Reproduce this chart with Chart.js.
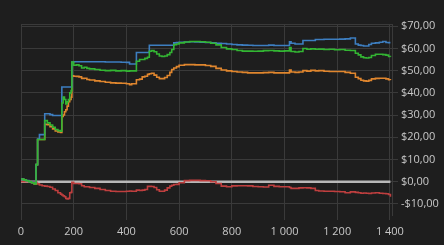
<!DOCTYPE html>
<html>
<head>
<meta charset="utf-8">
<script src="https://cdn.jsdelivr.net/npm/chart.js@4/dist/chart.umd.min.js"></script>
<style>
html,body{margin:0;padding:0;background:#1e1e1e;}
#wrap{width:444px;height:245px;position:relative;}
</style>
</head>
<body>
<div id="wrap"><canvas id="c" width="444" height="245"></canvas></div>
<script>
const xs = [0,10,20,30,40,50,57,60,63,70,80,90,100,110,120,130,140,150,155,160,165,170,175,180,185,190,193,200,210,220,230,240,250,260,280,300,320,340,360,380,400,412,420,438,450,460,470,480,487,495,505,515,525,535,545,555,565,572,580,590,600,620,640,660,680,700,720,740,760,780,800,820,840,860,880,900,920,940,960,980,1000,1019,1025,1040,1055,1070,1085,1100,1117,1130,1150,1170,1190,1210,1230,1250,1269,1280,1290,1300,1310,1320,1330,1345,1360,1373,1385,1395,1402];

const blue = [1.2,0.8,0.5,0,-0.3,-0.5,7.7,7.7,19.2,21.2,21.2,30.6,30.6,30.2,29.8,29.8,29.8,29.8,42.6,42.6,42.6,42.6,42.6,42.6,42.6,42.6,53.9,54.0,54.0,54.0,54.0,54.0,54.0,54.0,54.0,54.0,53.9,53.9,53.9,53.8,53.7,53.0,53.0,58.2,58.2,58.2,58.2,58.2,61.4,61.4,61.4,61.4,61.4,61.4,61.4,61.4,61.4,61.4,62.5,62.6,62.8,62.9,63.0,62.9,62.8,62.7,62.5,62.3,62.2,62.0,61.8,61.6,61.5,61.4,61.3,61.3,61.3,61.5,61.3,61.3,61.3,63.0,62.3,62.0,62.0,63.6,63.6,63.6,64.0,64.0,64.1,64.1,64.1,64.2,64.3,64.7,62.0,61.5,61.3,61.1,61.1,61.8,62.3,62.5,62.8,63.1,62.7,62.6,62.6];

const green = [1.2,0.8,0.4,0,-0.5,-1.0,7.7,7.7,19.0,19.0,19.0,27.5,26.5,25.5,24.5,23.5,23.0,22.7,35.4,38.1,37.0,35.0,36.0,37.0,40.0,41.0,53.9,52.4,52.6,52.2,51.2,51.5,51.0,50.8,50.5,50.2,50.0,50.1,49.9,50.0,49.8,49.9,49.9,54.2,55.0,55.0,55.5,56.0,58.7,59.0,58.5,57.5,56.6,56.4,56.6,57.2,58.2,59.5,61.7,62.0,62.5,62.9,63.1,63.1,63.0,62.8,62.3,61.6,60.4,59.8,59.5,59.1,58.8,58.8,58.7,58.8,59.0,59.1,58.9,58.8,58.9,60.4,58.6,58.4,58.6,60.0,59.6,59.8,59.6,59.7,59.5,59.6,59.4,59.5,59.2,59.1,57.8,57.1,56.2,55.8,55.7,55.9,56.8,57.4,57.4,57.2,57.0,56.4,56.2];

const orange = [1.2,0.8,0.4,0,-0.5,-1.0,7.7,7.7,19.0,19.0,19.0,25.8,25.7,24.8,23.8,22.8,22.4,22.2,29.4,30.0,31.5,32.4,34.0,36.0,37.0,38.0,47.7,47.5,47.4,47.2,46.5,46.6,46.0,45.8,45.4,45.1,44.8,44.5,44.4,44.3,44.1,43.7,44.1,45.9,46.2,47.2,47.5,48.3,48.6,48.8,48.0,47.0,46.4,46.4,46.9,47.8,49.2,50.5,51.2,51.8,52.4,52.7,52.7,52.6,52.6,52.3,51.9,51.0,50.3,49.9,49.6,49.4,49.2,49.0,49.0,49.0,49.1,49.2,49.0,49.0,49.0,50.3,49.4,49.2,49.4,50.0,49.8,50.1,49.9,50.0,49.7,49.6,49.6,49.6,49.2,48.8,47.0,46.4,45.7,45.4,45.3,45.6,46.3,46.5,46.6,46.6,46.3,45.9,45.8];

const red = [0,0,0,0,0,0,-0.3,-0.8,-1.0,-1.5,-1.8,-2.0,-2.2,-2.5,-3.3,-4.0,-5.0,-5.6,-6.0,-6.4,-6.8,-7.6,-7.8,-7.5,-5.0,-4.8,-0.3,-0.8,-0.8,-0.9,-1.8,-2.3,-2.3,-2.6,-3.0,-3.5,-4.0,-4.3,-4.4,-4.4,-4.3,-4.2,-4.3,-3.8,-4.0,-3.8,-3.5,-2.1,-2.1,-2.2,-2.6,-3.6,-4.3,-4.3,-3.8,-2.8,-2.0,-1.6,-1.3,-1.2,-0.5,0.5,0.6,0.6,0.5,0.4,0.0,-0.8,-2.0,-2.3,-1.9,-1.8,-1.8,-1.9,-2.2,-2.3,-2.4,-1.6,-2.1,-2.3,-2.3,-2.6,-3.0,-3.0,-2.8,-2.7,-2.8,-3.0,-4.0,-4.2,-4.3,-4.3,-4.4,-4.5,-5.0,-4.6,-4.8,-5.0,-5.2,-5.1,-5.2,-5.3,-5.1,-5.0,-5.2,-5.3,-5.4,-5.8,-6.8];

const zeroLine = xs.map(() => 0);

const xTicks = [0,200,400,600,800,1000,1200,1400];
const yTicks = [-10,0,10,20,30,40,50,60,70];

const pts = arr => arr.map((v, i) => ({x: xs[i], y: v}));
const grid = '#3a3a3a';
const txt = '#c8c8c8';

const fmtMoney = v => (v < 0 ? '-' : '') + '$' + Math.abs(v).toFixed(2).replace('.', ',');
const fmtNum = v => String(v).replace(/\B(?=(\d{3})+(?!\d))/g, ' ');

const topLine = {
  id: 'topLine',
  beforeDatasetsDraw(chart) {
    const {ctx, chartArea} = chart;
    ctx.save();
    ctx.strokeStyle = grid;
    ctx.lineWidth = 1;
    ctx.beginPath();
    ctx.moveTo(chartArea.left, chartArea.top + 0.5);
    ctx.lineTo(chartArea.right, chartArea.top + 0.5);
    ctx.stroke();
    ctx.restore();
  }
};

const ds = (data, color, w) => ({
  data: pts(data), borderColor: color, borderWidth: w, stepped: true,
  pointRadius: 0, fill: false, tension: 0
});

new Chart(document.getElementById('c'), {
  type: 'line',
  data: {
    datasets: [
      ds(green, '#33b533', 1.6),
      ds(blue, '#3d7ec0', 1.6),
      ds(orange, '#e0862e', 1.6),
      ds(red, '#bf3f3f', 1.6),
      ds(zeroLine, '#b8b8b8', 2.5)
    ]
  },
  options: {
    responsive: false,
    animation: false,
    events: [],
    layout: {padding: {left: 21, top: 24, right: 0, bottom: 0}},
    plugins: {legend: {display: false}, tooltip: {enabled: false}},
    scales: {
      x: {
        type: 'linear', min: 0, max: 1408,
        afterFit: s => { s.height = 30; },
        afterBuildTicks: s => { s.ticks = xTicks.map(v => ({value: v})); },
        ticks: {color: txt, font: {family: 'Open Sans', size: 11}, padding: 5, maxRotation: 0, callback: fmtNum},
        grid: {color: grid, tickLength: 5},
        border: {display: false}
      },
      y: {
        position: 'right', min: -15, max: 71,
        afterFit: s => { s.width = 52; },
        afterBuildTicks: s => { s.ticks = yTicks.map(v => ({value: v})); },
        ticks: {color: txt, font: {family: 'Open Sans', size: 11}, padding: 3, callback: fmtMoney},
        grid: {color: grid, tickLength: 6},
        border: {display: true, color: grid}
      }
    }
  },
  plugins: [topLine]
});
</script>
</body>
</html>
